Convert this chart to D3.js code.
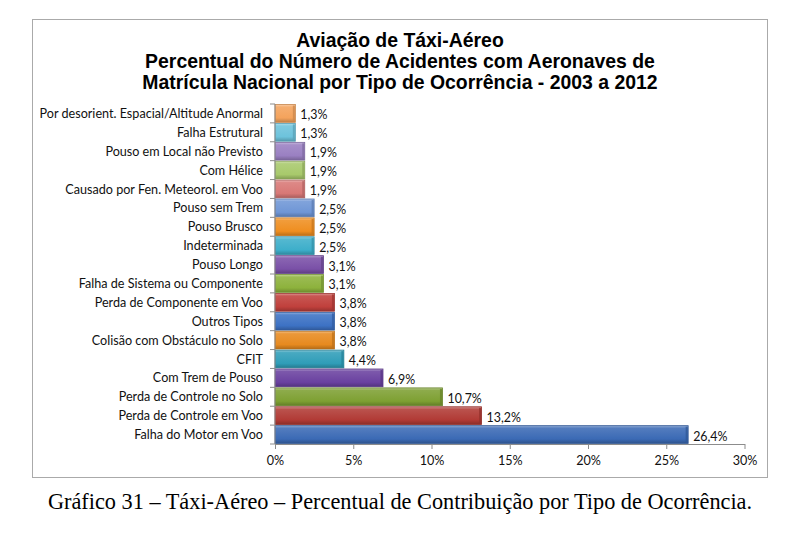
<!DOCTYPE html>
<html>
<head>
<meta charset="utf-8">
<script src="https://cdn.jsdelivr.net/npm/d3@7"></script>
<style>
  body { margin: 0; background: #fff; }
  svg { display: block; }
  .cat-label { font-family: Lato, "Open Sans", sans-serif; font-size: 12.6px; fill: #111; }
  .val-label { font-family: Lato, "Open Sans", sans-serif; font-size: 12.4px; fill: #111; }
  .title { font-family: "Liberation Sans", Arial, sans-serif; font-weight: bold; font-size: 20px; fill: #000; }
  .caption { font-family: "Liberation Serif", "Times New Roman", serif; font-size: 22.3px; fill: #000; }
  .axis text { font-family: Lato, "Open Sans", sans-serif; font-size: 12.6px; fill: #111; }
  .axis path, .axis line { stroke: #8c8c8c; }
</style>
</head>
<body>
<div id="chart"></div>
<script>
// --- Data (top to bottom, as shown) ---
const categories = [
    'Por desorient. Espacial/Altitude Anormal',
    'Falha Estrutural',
    'Pouso em Local não Previsto',
    'Com Hélice',
    'Causado por Fen. Meteorol. em Voo',
    'Pouso sem Trem',
    'Pouso Brusco',
    'Indeterminada',
    'Pouso Longo',
    'Falha de Sistema ou Componente',
    'Perda de Componente em Voo',
    'Outros Tipos',
    'Colisão com Obstáculo no Solo',
    'CFIT',
    'Com Trem de Pouso',
    'Perda de Controle no Solo',
    'Perda de Controle em Voo',
    'Falha do Motor em Voo'
];
const values = [1.3, 1.3, 1.9, 1.9, 1.9, 2.5, 2.5, 2.5, 3.1, 3.1, 3.8, 3.8, 3.8, 4.4, 6.9, 10.7, 13.2, 26.4];
const barColors = [
    '#F4A35C', '#6DC3DC', '#9A80C2', '#A8C96B', '#D87876', '#6F96D6',
    '#EF8E20', '#3DAECA', '#7A50A7', '#8DB23C', '#C0403C', '#3D72C4',
    '#E78A1F', '#2F9DB8', '#6A41A0', '#7EA032', '#B13A35', '#3B6AB5'
];
const xTicks = [0, 5, 10, 15, 20, 25, 30];
const titleLines = [
    'Aviação de Táxi-Aéreo',
    'Percentual do Número de Acidentes com Aeronaves de',
    'Matrícula Nacional por Tipo de Ocorrência - 2003 a 2012'
];
const caption = 'Gráfico 31 – Táxi-Aéreo – Percentual de Contribuição por Tipo de Ocorrência.';

const W = 800, H = 534;
const plot = { left: 275, right: 744.5, top: 104, bottom: 444 };

const svg = d3.select('#chart').append('svg')
    .attr('width', W)
    .attr('height', H);

// --- Frame ---
svg.append('rect')
    .attr('x', 32.5).attr('y', 19.5)
    .attr('width', 735).attr('height', 458)
    .attr('fill', '#fff')
    .attr('stroke', '#aaa')
    .attr('stroke-width', 1);

// --- Title (narrow look: squeeze horizontally) ---
const titleG = svg.append('g');
const titleTexts = titleLines.map((line, i) =>
    titleG.append('text')
        .attr('class', 'title')
        .attr('x', 0)
        .attr('y', 47 + i * 21)
        .attr('text-anchor', 'middle')
        .text(line));
const squeeze = 510 / titleTexts[1].node().getComputedTextLength();
titleG.attr('transform', `translate(400,0) scale(${squeeze},1)`);

// --- Scales ---
const x = d3.scaleLinear()
    .domain([0, 30])
    .range([plot.left, plot.right]);

const y = d3.scaleBand()
    .domain(categories)
    .range([plot.top, plot.bottom])
    .paddingInner(0.06)
    .paddingOuter(0.03);

const data = categories.map((c, i) => ({ cat: c, value: values[i], color: barColors[i] }));

// --- Gradients for the bevelled bars ---
const defs = svg.append('defs');
data.forEach((d, i) => {
    const base = d3.color(d.color);
    const g = defs.append('linearGradient')
        .attr('id', 'grad' + i)
        .attr('x1', 0).attr('y1', 0).attr('x2', 0).attr('y2', 1);
    g.append('stop').attr('offset', '0%').attr('stop-color', d3.interpolateRgb(base, '#fff')(0.45));
    g.append('stop').attr('offset', '14%').attr('stop-color', d3.interpolateRgb(base, '#fff')(0.12));
    g.append('stop').attr('offset', '75%').attr('stop-color', base.formatHex());
    g.append('stop').attr('offset', '100%').attr('stop-color', base.darker(0.7).formatHex());
});

// --- Bars ---
const bars = svg.append('g');
bars.selectAll('rect.bar')
    .data(data)
    .enter().append('rect')
    .attr('class', 'bar')
    .attr('x', x(0))
    .attr('y', d => y(d.cat))
    .attr('width', d => x(d.value) - x(0))
    .attr('height', y.bandwidth())
    .attr('fill', (d, i) => `url(#grad${i})`)
    .attr('stroke', d => d3.color(d.color).darker(0.6))
    .attr('stroke-width', 0.8);

// right edge shading
bars.selectAll('rect.edge')
    .data(data)
    .enter().append('rect')
    .attr('class', 'edge')
    .attr('x', d => x(d.value) - 2.5)
    .attr('y', d => y(d.cat) + 1)
    .attr('width', 2)
    .attr('height', y.bandwidth() - 2)
    .attr('fill', d => d3.color(d.color).darker(0.5))
    .attr('opacity', 0.8);

// --- Value labels ---
svg.selectAll('.val-label')
    .data(data)
    .enter().append('text')
    .attr('class', 'val-label')
    .attr('x', d => x(d.value) + 5)
    .attr('y', d => y(d.cat) + y.bandwidth() / 2 + 6)
    .text(d => d.value.toFixed(1).replace('.', ',') + '%');

// --- Category labels ---
svg.selectAll('.cat-label')
    .data(data)
    .enter().append('text')
    .attr('class', 'cat-label')
    .attr('x', 263)
    .attr('y', d => y(d.cat) + y.bandwidth() / 2)
    .attr('dy', '0.36em')
    .attr('text-anchor', 'end')
    .text(d => d.cat);

// --- Axes ---
svg.append('g')
    .attr('class', 'axis')
    .attr('transform', `translate(0,${plot.bottom})`)
    .call(d3.axisBottom(x)
        .tickValues(xTicks)
        .tickSize(5)
        .tickSizeOuter(0)
        .tickPadding(7)
        .tickFormat(d => d + '%'));

// vertical axis with ticks between categories
const boundaries = categories.map(c => y(c) - y.step() * y.paddingInner() / 2)
    .concat([plot.bottom]);
const yAxis = svg.append('g').attr('class', 'axis');
yAxis.append('line')
    .attr('x1', x(0)).attr('x2', x(0))
    .attr('y1', boundaries[0]).attr('y2', plot.bottom);
yAxis.selectAll('.ytick')
    .data(boundaries)
    .enter().append('line')
    .attr('class', 'ytick')
    .attr('x1', x(0) - 5).attr('x2', x(0))
    .attr('y1', d => d).attr('y2', d => d);

// --- Caption ---
svg.append('text')
    .attr('class', 'caption')
    .attr('x', 400)
    .attr('y', 509)
    .attr('text-anchor', 'middle')
    .text(caption);
</script>
</body>
</html>
